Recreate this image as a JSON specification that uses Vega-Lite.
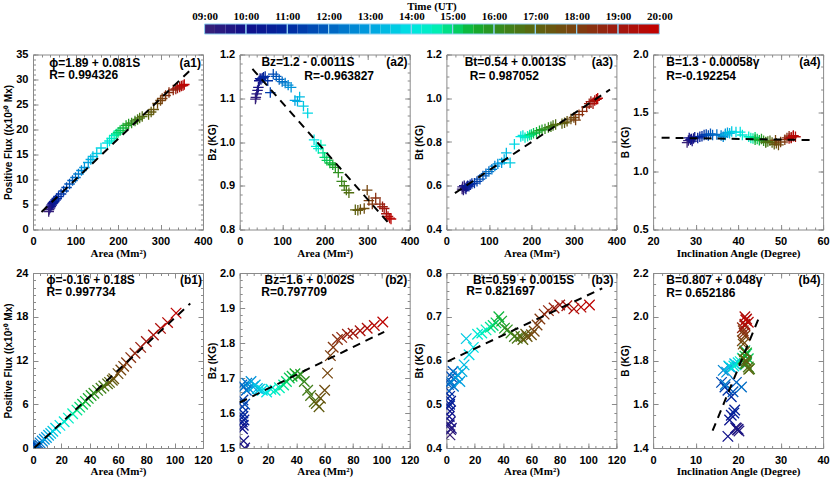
{
"$schema": "https://vega.github.io/schema/vega-lite/v6.json",
"padding": {"left": 3, "top": 0, "right": 0, "bottom": 0},
"background": "white",
"datasets": {
"obs": [
{"t":9.0,"sa":37,"fa":3.6,"za":1.098,"ba":0.585,"ia":28.0,"Ba":1.245,"sb":2.5,"fb":0.10,"zb":1.46,"bb":0.430,"ib":19.8,"Bb":1.483},
{"t":9.2,"sa":38,"fa":4.0,"za":1.102,"ba":0.595,"ia":28.3,"Ba":1.262,"sb":3.0,"fb":0.15,"zb":1.48,"bb":0.442,"ib":19.6,"Bb":1.490},
{"t":9.4,"sa":40,"fa":4.3,"za":1.110,"ba":0.580,"ia":28.8,"Ba":1.270,"sb":2.0,"fb":0.10,"zb":1.49,"bb":0.453,"ib":20.2,"Bb":1.478},
{"t":9.6,"sa":42,"fa":4.6,"za":1.118,"ba":0.600,"ia":29.2,"Ba":1.258,"sb":3.5,"fb":0.20,"zb":1.50,"bb":0.445,"ib":19.4,"Bb":1.492},
{"t":9.8,"sa":44,"fa":4.9,"za":1.125,"ba":0.590,"ia":29.5,"Ba":1.280,"sb":2.8,"fb":0.12,"zb":1.52,"bb":0.460,"ib":20.0,"Bb":1.486},
{"t":10.0,"sa":46,"fa":5.2,"za":1.140,"ba":0.585,"ia":28.5,"Ba":1.285,"sb":2.0,"fb":0.10,"zb":1.555,"bb":0.472,"ib":17.6,"Bb":1.453},
{"t":10.2,"sa":48,"fa":5.4,"za":1.145,"ba":0.595,"ia":29.0,"Ba":1.275,"sb":2.5,"fb":0.15,"zb":1.565,"bb":0.484,"ib":18.0,"Bb":1.528},
{"t":10.4,"sa":50,"fa":5.6,"za":1.143,"ba":0.600,"ia":29.8,"Ba":1.290,"sb":1.8,"fb":0.08,"zb":1.575,"bb":0.495,"ib":18.4,"Bb":1.550},
{"t":10.6,"sa":53,"fa":5.9,"za":1.146,"ba":0.598,"ia":30.5,"Ba":1.285,"sb":3.0,"fb":0.20,"zb":1.580,"bb":0.507,"ib":19.2,"Bb":1.574},
{"t":10.8,"sa":56,"fa":6.2,"za":1.148,"ba":0.605,"ia":31.0,"Ba":1.295,"sb":2.3,"fb":0.12,"zb":1.590,"bb":0.500,"ib":19.0,"Bb":1.560},
{"t":11.0,"sa":60,"fa":6.6,"za":1.150,"ba":0.610,"ia":31.5,"Ba":1.300,"sb":2.3,"fb":0.15,"zb":1.600,"bb":0.518,"ib":18.4,"Bb":1.634},
{"t":11.2,"sa":66,"fa":7.1,"za":1.140,"ba":0.612,"ia":32.0,"Ba":1.310,"sb":1.9,"fb":0.10,"zb":1.618,"bb":0.530,"ib":17.6,"Bb":1.664},
{"t":11.4,"sa":72,"fa":7.7,"za":1.113,"ba":0.620,"ia":32.5,"Ba":1.315,"sb":2.3,"fb":0.18,"zb":1.637,"bb":0.549,"ib":16.9,"Bb":1.679},
{"t":11.6,"sa":79,"fa":8.4,"za":1.155,"ba":0.630,"ia":33.0,"Ba":1.305,"sb":3.5,"fb":0.25,"zb":1.625,"bb":0.563,"ib":16.1,"Bb":1.700},
{"t":11.8,"sa":86,"fa":9.1,"za":1.150,"ba":0.645,"ia":33.5,"Ba":1.320,"sb":4.7,"fb":0.40,"zb":1.665,"bb":0.575,"ib":18.8,"Bb":1.657},
{"t":12.0,"sa":93,"fa":9.8,"za":1.143,"ba":0.655,"ia":34.0,"Ba":1.310,"sb":1.5,"fb":0.20,"zb":1.680,"bb":0.545,"ib":19.6,"Bb":1.700},
{"t":12.2,"sa":100,"fa":10.4,"za":1.138,"ba":0.665,"ia":35.0,"Ba":1.315,"sb":3.0,"fb":0.40,"zb":1.675,"bb":0.552,"ib":20.8,"Bb":1.679},
{"t":12.4,"sa":107,"fa":11.1,"za":1.135,"ba":0.675,"ia":36.0,"Ba":1.305,"sb":5.0,"fb":0.70,"zb":1.685,"bb":0.541,"ib":17.0,"Bb":1.690},
{"t":12.6,"sa":114,"fa":11.8,"za":1.130,"ba":0.690,"ia":36.5,"Ba":1.295,"sb":6.5,"fb":0.95,"zb":1.670,"bb":0.560,"ib":16.5,"Bb":1.755},
{"t":12.8,"sa":121,"fa":12.4,"za":1.125,"ba":0.700,"ia":37.0,"Ba":1.320,"sb":8.0,"fb":1.20,"zb":1.690,"bb":0.567,"ib":17.3,"Bb":1.747},
{"t":13.0,"sa":130,"fa":13.4,"za":1.095,"ba":0.705,"ia":37.5,"Ba":1.330,"sb":9.5,"fb":1.45,"zb":1.675,"bb":0.552,"ib":18.0,"Bb":1.770},
{"t":13.2,"sa":136,"fa":14.0,"za":1.093,"ba":0.720,"ia":37.0,"Ba":1.310,"sb":11.0,"fb":1.75,"zb":1.680,"bb":0.575,"ib":19.2,"Bb":1.785},
{"t":13.4,"sa":141,"fa":14.6,"za":1.103,"ba":0.750,"ia":38.0,"Ba":1.325,"sb":12.5,"fb":2.00,"zb":1.670,"bb":0.590,"ib":18.5,"Bb":1.765},
{"t":13.6,"sa":150,"fa":15.2,"za":1.082,"ba":0.705,"ia":38.5,"Ba":1.340,"sb":14.0,"fb":2.30,"zb":1.668,"bb":0.650,"ib":17.8,"Bb":1.775},
{"t":13.8,"sa":160,"fa":16.3,"za":1.066,"ba":0.790,"ia":39.5,"Ba":1.335,"sb":16.0,"fb":2.70,"zb":1.665,"bb":0.613,"ib":19.5,"Bb":1.780},
{"t":14.0,"sa":175,"fa":17.3,"za":1.005,"ba":0.825,"ia":40.5,"Ba":1.335,"sb":19.0,"fb":3.10,"zb":1.660,"bb":0.630,"ib":20.0,"Bb":1.790},
{"t":14.2,"sa":180,"fa":17.7,"za":0.990,"ba":0.830,"ia":41.0,"Ba":1.310,"sb":22.0,"fb":3.60,"zb":1.668,"bb":0.660,"ib":19.0,"Bb":1.775},
{"t":14.4,"sa":185,"fa":18.2,"za":0.985,"ba":0.820,"ia":42.5,"Ba":1.295,"sb":25.0,"fb":4.10,"zb":1.665,"bb":0.663,"ib":20.5,"Bb":1.795},
{"t":14.6,"sa":191,"fa":18.8,"za":0.993,"ba":0.826,"ia":43.0,"Ba":1.285,"sb":28.0,"fb":4.70,"zb":1.672,"bb":0.670,"ib":21.0,"Bb":1.810},
{"t":14.8,"sa":196,"fa":19.1,"za":0.975,"ba":0.832,"ia":43.5,"Ba":1.280,"sb":31.0,"fb":5.20,"zb":1.680,"bb":0.676,"ib":21.6,"Bb":1.845},
{"t":15.0,"sa":200,"fa":19.4,"za":0.965,"ba":0.834,"ia":44.0,"Ba":1.290,"sb":33.0,"fb":5.60,"zb":1.690,"bb":0.680,"ib":22.0,"Bb":1.830},
{"t":15.2,"sa":205,"fa":19.8,"za":0.958,"ba":0.840,"ia":44.5,"Ba":1.275,"sb":35.0,"fb":6.00,"zb":1.700,"bb":0.686,"ib":22.4,"Bb":1.808},
{"t":15.4,"sa":212,"fa":20.3,"za":0.952,"ba":0.845,"ia":45.0,"Ba":1.265,"sb":37.0,"fb":6.40,"zb":1.705,"bb":0.700,"ib":21.6,"Bb":1.820},
{"t":15.6,"sa":219,"fa":20.8,"za":0.948,"ba":0.852,"ia":44.0,"Ba":1.270,"sb":39.0,"fb":6.80,"zb":1.712,"bb":0.690,"ib":22.0,"Bb":1.835},
{"t":15.8,"sa":225,"fa":21.1,"za":0.942,"ba":0.856,"ia":45.5,"Ba":1.275,"sb":41.0,"fb":7.20,"zb":1.705,"bb":0.674,"ib":21.6,"Bb":1.785},
{"t":16.0,"sa":232,"fa":21.3,"za":0.930,"ba":0.860,"ia":46.0,"Ba":1.260,"sb":43.0,"fb":7.50,"zb":1.710,"bb":0.670,"ib":21.9,"Bb":1.785},
{"t":16.2,"sa":240,"fa":21.7,"za":0.910,"ba":0.866,"ia":46.5,"Ba":1.250,"sb":45.6,"fb":7.90,"zb":1.690,"bb":0.663,"ib":22.7,"Bb":1.762},
{"t":16.4,"sa":246,"fa":22.0,"za":0.900,"ba":0.870,"ia":47.0,"Ba":1.255,"sb":48.0,"fb":8.20,"zb":1.665,"bb":0.655,"ib":21.2,"Bb":1.807},
{"t":16.6,"sa":251,"fa":22.3,"za":0.890,"ba":0.875,"ia":46.5,"Ba":1.245,"sb":50.0,"fb":8.50,"zb":1.650,"bb":0.651,"ib":22.4,"Bb":1.770},
{"t":16.8,"sa":257,"fa":22.6,"za":0.884,"ba":0.880,"ia":47.5,"Ba":1.260,"sb":52.6,"fb":8.80,"zb":1.632,"bb":0.655,"ib":22.0,"Bb":1.795},
{"t":17.0,"sa":272,"fa":23.0,"za":0.845,"ba":0.884,"ia":48.0,"Ba":1.245,"sb":54.0,"fb":9.00,"zb":1.627,"bb":0.648,"ib":22.5,"Bb":1.760},
{"t":17.2,"sa":278,"fa":23.5,"za":0.844,"ba":0.888,"ia":48.5,"Ba":1.230,"sb":56.0,"fb":9.30,"zb":1.618,"bb":0.660,"ib":21.8,"Bb":1.800},
{"t":17.4,"sa":284,"fa":24.0,"za":0.846,"ba":0.895,"ia":49.0,"Ba":1.240,"sb":57.0,"fb":9.50,"zb":1.642,"bb":0.655,"ib":21.5,"Bb":1.840},
{"t":17.6,"sa":293,"fa":25.2,"za":0.848,"ba":0.905,"ia":49.5,"Ba":1.225,"sb":60.0,"fb":10.20,"zb":1.665,"bb":0.659,"ib":21.2,"Bb":1.875},
{"t":17.8,"sa":300,"fa":25.8,"za":0.890,"ba":0.912,"ia":48.8,"Ba":1.265,"sb":62.0,"fb":10.70,"zb":1.714,"bb":0.667,"ib":21.0,"Bb":1.890},
{"t":18.0,"sa":304,"fa":26.2,"za":0.866,"ba":0.900,"ia":50.0,"Ba":1.250,"sb":64.0,"fb":11.20,"zb":1.764,"bb":0.681,"ib":21.6,"Bb":1.913},
{"t":18.2,"sa":312,"fa":26.8,"za":0.858,"ba":0.925,"ia":51.0,"Ba":1.270,"sb":66.0,"fb":11.70,"zb":1.788,"bb":0.695,"ib":21.2,"Bb":1.936},
{"t":18.4,"sa":320,"fa":27.4,"za":0.872,"ba":0.940,"ia":51.5,"Ba":1.285,"sb":69.0,"fb":12.40,"zb":1.810,"bb":0.706,"ib":21.4,"Bb":1.925},
{"t":18.6,"sa":330,"fa":27.9,"za":0.858,"ba":0.960,"ia":52.0,"Ba":1.300,"sb":72.0,"fb":13.00,"zb":1.816,"bb":0.714,"ib":21.0,"Bb":1.950},
{"t":18.8,"sa":336,"fa":28.1,"za":0.852,"ba":0.975,"ia":52.5,"Ba":1.290,"sb":76.0,"fb":13.80,"zb":1.825,"bb":0.720,"ib":21.6,"Bb":1.960},
{"t":19.0,"sa":340,"fa":28.3,"za":0.848,"ba":0.985,"ia":53.0,"Ba":1.305,"sb":80.0,"fb":14.60,"zb":1.828,"bb":0.727,"ib":21.6,"Bb":1.966},
{"t":19.2,"sa":345,"fa":28.5,"za":0.836,"ba":0.975,"ia":52.0,"Ba":1.280,"sb":85.0,"fb":15.50,"zb":1.835,"bb":0.725,"ib":22.0,"Bb":1.990},
{"t":19.4,"sa":349,"fa":28.7,"za":0.830,"ba":0.990,"ia":53.5,"Ba":1.295,"sb":90.0,"fb":16.40,"zb":1.842,"bb":0.718,"ib":21.6,"Bb":2.000},
{"t":19.6,"sa":353,"fa":28.8,"za":0.826,"ba":0.995,"ia":52.5,"Ba":1.285,"sb":95.0,"fb":17.20,"zb":1.850,"bb":0.722,"ib":22.4,"Bb":1.975},
{"t":19.8,"sa":356,"fa":29.0,"za":0.824,"ba":1.000,"ia":53.0,"Ba":1.300,"sb":101.0,"fb":18.50,"zb":1.860,"bb":0.727,"ib":21.8,"Bb":1.985}
],
"fit": [
{"p":"a1","x":20,"y":3.51},{"p":"a1","x":370,"y":31.86},
{"p":"a2","x":30,"y":1.167},{"p":"a2","x":352,"y":0.813},
{"p":"a3","x":20,"y":0.566},{"p":"a3","x":385,"y":1.04},
{"p":"a4","x":22,"y":1.287},{"p":"a4","x":58,"y":1.266},
{"p":"b1","x":1,"y":0.02},{"p":"b1","x":111,"y":19.82},
{"p":"b2","x":0,"y":1.63},{"p":"b2","x":102,"y":1.832},
{"p":"b3","x":1,"y":0.598},{"p":"b3","x":110,"y":0.765},
{"p":"b4","x":14,"y":1.479},{"p":"b4","x":25,"y":2.0}
],
"cbar": [
{"a":9,"b":9.25,"m":9.125},{"a":9.25,"b":9.5,"m":9.375},{"a":9.5,"b":9.75,"m":9.625},{"a":9.75,"b":10,"m":9.875},
{"a":10,"b":10.25,"m":10.125},{"a":10.25,"b":10.5,"m":10.375},{"a":10.5,"b":10.75,"m":10.625},{"a":10.75,"b":11,"m":10.875},
{"a":11,"b":11.25,"m":11.125},{"a":11.25,"b":11.5,"m":11.375},{"a":11.5,"b":11.75,"m":11.625},{"a":11.75,"b":12,"m":11.875},
{"a":12,"b":12.25,"m":12.125},{"a":12.25,"b":12.5,"m":12.375},{"a":12.5,"b":12.75,"m":12.625},{"a":12.75,"b":13,"m":12.875},
{"a":13,"b":13.25,"m":13.125},{"a":13.25,"b":13.5,"m":13.375},{"a":13.5,"b":13.75,"m":13.625},{"a":13.75,"b":14,"m":13.875},
{"a":14,"b":14.25,"m":14.125},{"a":14.25,"b":14.5,"m":14.375},{"a":14.5,"b":14.75,"m":14.625},{"a":14.75,"b":15,"m":14.875},
{"a":15,"b":15.25,"m":15.125},{"a":15.25,"b":15.5,"m":15.375},{"a":15.5,"b":15.75,"m":15.625},{"a":15.75,"b":16,"m":15.875},
{"a":16,"b":16.25,"m":16.125},{"a":16.25,"b":16.5,"m":16.375},{"a":16.5,"b":16.75,"m":16.625},{"a":16.75,"b":17,"m":16.875},
{"a":17,"b":17.25,"m":17.125},{"a":17.25,"b":17.5,"m":17.375},{"a":17.5,"b":17.75,"m":17.625},{"a":17.75,"b":18,"m":17.875},
{"a":18,"b":18.25,"m":18.125},{"a":18.25,"b":18.5,"m":18.375},{"a":18.5,"b":18.75,"m":18.625},{"a":18.75,"b":19,"m":18.875},
{"a":19,"b":19.25,"m":19.125},{"a":19.25,"b":19.5,"m":19.375},{"a":19.5,"b":19.75,"m":19.625},{"a":19.75,"b":20,"m":19.875}
],
"hrs": [
{"a":9,"b":10},{"a":10,"b":11},{"a":11,"b":12},{"a":12,"b":13},{"a":13,"b":14},{"a":14,"b":15},
{"a":15,"b":16},{"a":16,"b":17},{"a":17,"b":18},{"a":18,"b":19},{"a":19,"b":20}
]
},
"vconcat": [
{
"width": 790, "height": 16.2,
"layer": [
{"data": {"name": "cbar"}, "mark": {"type": "rect", "strokeWidth": 0},
 "encoding": {
  "x": {"field": "a", "type": "quantitative", "scale": {"domain": [4.849, 23.959], "nice": false, "zero": false},
        "axis": {"orient": "top", "values": [9,10,11,12,13,14,15,16,17,18,19,20], "labelExpr": "(datum.value < 10 ? '0' : '') + datum.value + ':00'", "ticks": false, "labelPadding": 3, "labelFont": "Liberation Serif", "labelFontSize": 11, "title": null}},
  "x2": {"field": "b"},
  "y": {"datum": 6.2, "type": "quantitative", "scale": {"domain": [0, 16.2], "nice": false, "zero": false}, "axis": null},
  "y2": {"datum": 16.2},
  "color": {"field": "m", "type": "quantitative", "legend": null,
    "scale": {"type": "linear", "domain": [9,10,11,12,13,14,14.6,15,15.5,16,17,18,19,20], "range": ["#3a2278","#10108a","#0028a0","#0060c0","#00a0e0","#00e4e4","#00f0b8","#00d870","#10b030","#309020","#5c6410","#7c4010","#a01810","#c40000"], "interpolate": "rgb"}}
 }},
{"data": {"name": "hrs"}, "mark": {"type": "rect", "fill": "transparent", "stroke": "#8fd0f0", "strokeWidth": 1},
 "encoding": {
  "x": {"field": "a", "type": "quantitative"},
  "x2": {"field": "b"},
  "y": {"datum": 6.2, "type": "quantitative"},
  "y2": {"datum": 16.2}
 }},
{"data": {"values": [{}]}, "mark": {"type": "text", "font": "Liberation Serif", "fontWeight": "bold", "fontSize": 11, "baseline": "middle", "align": "center", "color": "black"},
 "encoding": {"x": {"datum": 14.5, "type": "quantitative"}, "y": {"datum": 33.4, "type": "quantitative"}, "text": {"value": "Time (UT)"}}}
],
"view": {"stroke": null}
},
{
"hconcat": [
{
"width": 170, "height": 175,
"resolve": {"axis": {"x": "independent", "y": "independent"}},
"layer": [
{"data": {"name": "obs"}, "mark": {"type": "point", "shape": "M-1,0H1M0,-1V1", "size": 110, "strokeWidth": 1.3, "filled": false, "opacity": 1, "clip": true},
 "encoding": {
  "x": {"field": "sa", "type": "quantitative", "scale": {"domain": [0, 400], "nice": false, "zero": false}, "axis": {"values": [0,100,200,300,400], "format": "d", "title": "Area (Mm²)"}},
  "y": {"field": "fa", "type": "quantitative", "scale": {"domain": [0, 35], "nice": false, "zero": false}, "axis": {"values": [0,5,10,15,20,25,30,35], "format": "d", "title": "Positive Flux ((x10²⁰ Mx)"}},
  "color": {"field": "t", "type": "quantitative", "legend": null,
    "scale": {"type": "linear", "domain": [9,10,11,12,13,14,14.6,15,15.5,16,17,18,19,20], "range": ["#3a2278","#10108a","#0028a0","#0060c0","#00a0e0","#00e4e4","#00f0b8","#00d870","#10b030","#309020","#5c6410","#7c4010","#a01810","#c40000"], "interpolate": "rgb"}}
 }},
{"data": {"name": "fit"}, "transform": [{"filter": "datum.p == 'a1'"}], "mark": {"type": "line", "color": "black", "strokeWidth": 2, "strokeDash": [8, 6]},
 "encoding": {
  "x": {"field": "x", "type": "quantitative", "scale": {"domain": [0, 400], "nice": false, "zero": false}, "axis": {"orient": "top", "values": [0,100,200,300,400], "labels": false, "title": null}},
  "y": {"field": "y", "type": "quantitative", "scale": {"domain": [0, 35], "nice": false, "zero": false}, "axis": {"orient": "right", "values": [0,5,10,15,20,25,30,35], "labels": false, "title": null}}
 }},
{"data": {"values": [{}]}, "mark": {"type": "text", "align": "left", "baseline": "middle", "font": "Liberation Sans", "fontWeight": "bold", "fontSize": 12, "color": "black"},
 "encoding": {"x": {"datum": 38, "type": "quantitative", "axis": {"orient": "bottom", "tickCount": 20, "labels": false, "title": null, "tickSize": -2.5}}, "y": {"datum": 33.3, "type": "quantitative", "axis": {"orient": "left", "tickCount": 35, "labels": false, "title": null, "tickSize": -2.5}}, "text": {"value": "ϕ=1.89  +  0.081S"}}},
{"data": {"values": [{}]}, "mark": {"type": "text", "align": "left", "baseline": "middle", "font": "Liberation Sans", "fontWeight": "bold", "fontSize": 12, "color": "black"},
 "encoding": {"x": {"datum": 38, "type": "quantitative", "axis": {"orient": "top", "tickCount": 20, "labels": false, "title": null, "tickSize": -2.5}}, "y": {"datum": 31.0, "type": "quantitative", "axis": {"orient": "right", "tickCount": 35, "labels": false, "title": null, "tickSize": -2.5}}, "text": {"value": "R= 0.994326"}}},
{"data": {"values": [{}]}, "mark": {"type": "text", "align": "right", "baseline": "middle", "font": "Liberation Sans", "fontWeight": "bold", "fontSize": 12, "color": "black"},
 "encoding": {"x": {"datum": 395, "type": "quantitative", "axis": null}, "y": {"datum": 33.3, "type": "quantitative", "axis": null}, "text": {"value": "(a1)"}}}
]
},
{
"width": 170, "height": 175,
"resolve": {"axis": {"x": "independent", "y": "independent"}},
"layer": [
{"data": {"name": "obs"}, "mark": {"type": "point", "shape": "M-1,0H1M0,-1V1", "size": 110, "strokeWidth": 1.3, "filled": false, "opacity": 1, "clip": true},
 "encoding": {
  "x": {"field": "sa", "type": "quantitative", "scale": {"domain": [0, 400], "nice": false, "zero": false}, "axis": {"values": [0,100,200,300,400], "format": "d", "title": "Area (Mm²)"}},
  "y": {"field": "za", "type": "quantitative", "scale": {"domain": [0.8, 1.2], "nice": false, "zero": false}, "axis": {"values": [0.8,0.9,1.0,1.1,1.2], "format": ".1f", "title": "Bz (KG)"}},
  "color": {"field": "t", "type": "quantitative", "legend": null,
    "scale": {"type": "linear", "domain": [9,10,11,12,13,14,14.6,15,15.5,16,17,18,19,20], "range": ["#3a2278","#10108a","#0028a0","#0060c0","#00a0e0","#00e4e4","#00f0b8","#00d870","#10b030","#309020","#5c6410","#7c4010","#a01810","#c40000"], "interpolate": "rgb"}}
 }},
{"data": {"name": "fit"}, "transform": [{"filter": "datum.p == 'a2'"}], "mark": {"type": "line", "color": "black", "strokeWidth": 2, "strokeDash": [8, 6]},
 "encoding": {
  "x": {"field": "x", "type": "quantitative", "scale": {"domain": [0, 400], "nice": false, "zero": false}, "axis": {"orient": "top", "values": [0,100,200,300,400], "labels": false, "title": null}},
  "y": {"field": "y", "type": "quantitative", "scale": {"domain": [0.8, 1.2], "nice": false, "zero": false}, "axis": {"orient": "right", "values": [0.8,0.9,1.0,1.1,1.2], "labels": false, "title": null}}
 }},
{"data": {"values": [{}]}, "mark": {"type": "text", "align": "left", "baseline": "middle", "font": "Liberation Sans", "fontWeight": "bold", "fontSize": 12, "color": "black"},
 "encoding": {"x": {"datum": 51, "type": "quantitative", "axis": {"orient": "bottom", "tickCount": 20, "labels": false, "title": null, "tickSize": -2.5}}, "y": {"datum": 1.1826, "type": "quantitative", "axis": {"orient": "left", "tickCount": 20, "labels": false, "title": null, "tickSize": -2.5}}, "text": {"value": "Bz=1.2  -  0.0011S"}}},
{"data": {"values": [{}]}, "mark": {"type": "text", "align": "left", "baseline": "middle", "font": "Liberation Sans", "fontWeight": "bold", "fontSize": 12, "color": "black"},
 "encoding": {"x": {"datum": 152, "type": "quantitative", "axis": {"orient": "top", "tickCount": 20, "labels": false, "title": null, "tickSize": -2.5}}, "y": {"datum": 1.150, "type": "quantitative", "axis": {"orient": "right", "tickCount": 20, "labels": false, "title": null, "tickSize": -2.5}}, "text": {"value": "R=-0.963827"}}},
{"data": {"values": [{}]}, "mark": {"type": "text", "align": "right", "baseline": "middle", "font": "Liberation Sans", "fontWeight": "bold", "fontSize": 12, "color": "black"},
 "encoding": {"x": {"datum": 395, "type": "quantitative", "axis": null}, "y": {"datum": 1.1826, "type": "quantitative", "axis": null}, "text": {"value": "(a2)"}}}
]
},
{
"width": 170, "height": 175,
"resolve": {"axis": {"x": "independent", "y": "independent"}},
"layer": [
{"data": {"name": "obs"}, "mark": {"type": "point", "shape": "M-1,0H1M0,-1V1", "size": 110, "strokeWidth": 1.3, "filled": false, "opacity": 1, "clip": true},
 "encoding": {
  "x": {"field": "sa", "type": "quantitative", "scale": {"domain": [0, 400], "nice": false, "zero": false}, "axis": {"values": [0,100,200,300,400], "format": "d", "title": "Area (Mm²)"}},
  "y": {"field": "ba", "type": "quantitative", "scale": {"domain": [0.4, 1.2], "nice": false, "zero": false}, "axis": {"values": [0.4,0.6,0.8,1.0,1.2], "format": ".1f", "title": "Bt (KG)"}},
  "color": {"field": "t", "type": "quantitative", "legend": null,
    "scale": {"type": "linear", "domain": [9,10,11,12,13,14,14.6,15,15.5,16,17,18,19,20], "range": ["#3a2278","#10108a","#0028a0","#0060c0","#00a0e0","#00e4e4","#00f0b8","#00d870","#10b030","#309020","#5c6410","#7c4010","#a01810","#c40000"], "interpolate": "rgb"}}
 }},
{"data": {"name": "fit"}, "transform": [{"filter": "datum.p == 'a3'"}], "mark": {"type": "line", "color": "black", "strokeWidth": 2, "strokeDash": [8, 6]},
 "encoding": {
  "x": {"field": "x", "type": "quantitative", "scale": {"domain": [0, 400], "nice": false, "zero": false}, "axis": {"orient": "top", "values": [0,100,200,300,400], "labels": false, "title": null}},
  "y": {"field": "y", "type": "quantitative", "scale": {"domain": [0.4, 1.2], "nice": false, "zero": false}, "axis": {"orient": "right", "values": [0.4,0.6,0.8,1.0,1.2], "labels": false, "title": null}}
 }},
{"data": {"values": [{}]}, "mark": {"type": "text", "align": "left", "baseline": "middle", "font": "Liberation Sans", "fontWeight": "bold", "fontSize": 12, "color": "black"},
 "encoding": {"x": {"datum": 43, "type": "quantitative", "axis": {"orient": "bottom", "tickCount": 20, "labels": false, "title": null, "tickSize": -2.5}}, "y": {"datum": 1.165, "type": "quantitative", "axis": {"orient": "left", "tickCount": 16, "labels": false, "title": null, "tickSize": -2.5}}, "text": {"value": "Bt=0.54  +  0.0013S"}}},
{"data": {"values": [{}]}, "mark": {"type": "text", "align": "left", "baseline": "middle", "font": "Liberation Sans", "fontWeight": "bold", "fontSize": 12, "color": "black"},
 "encoding": {"x": {"datum": 55, "type": "quantitative", "axis": {"orient": "top", "tickCount": 20, "labels": false, "title": null, "tickSize": -2.5}}, "y": {"datum": 1.101, "type": "quantitative", "axis": {"orient": "right", "tickCount": 16, "labels": false, "title": null, "tickSize": -2.5}}, "text": {"value": "R= 0.987052"}}},
{"data": {"values": [{}]}, "mark": {"type": "text", "align": "right", "baseline": "middle", "font": "Liberation Sans", "fontWeight": "bold", "fontSize": 12, "color": "black"},
 "encoding": {"x": {"datum": 392, "type": "quantitative", "axis": null}, "y": {"datum": 1.165, "type": "quantitative", "axis": null}, "text": {"value": "(a3)"}}}
]
},
{
"width": 170, "height": 175,
"resolve": {"axis": {"x": "independent", "y": "independent"}},
"layer": [
{"data": {"name": "obs"}, "mark": {"type": "point", "shape": "M-1,0H1M0,-1V1", "size": 110, "strokeWidth": 1.3, "filled": false, "opacity": 1, "clip": true},
 "encoding": {
  "x": {"field": "ia", "type": "quantitative", "scale": {"domain": [20, 60], "nice": false, "zero": false}, "axis": {"values": [20,30,40,50,60], "format": "d", "title": "Inclination Angle (Degree)"}},
  "y": {"field": "Ba", "type": "quantitative", "scale": {"domain": [0.5, 2.0], "nice": false, "zero": false}, "axis": {"values": [0.5,1.0,1.5,2.0], "format": ".1f", "title": "B (KG)"}},
  "color": {"field": "t", "type": "quantitative", "legend": null,
    "scale": {"type": "linear", "domain": [9,10,11,12,13,14,14.6,15,15.5,16,17,18,19,20], "range": ["#3a2278","#10108a","#0028a0","#0060c0","#00a0e0","#00e4e4","#00f0b8","#00d870","#10b030","#309020","#5c6410","#7c4010","#a01810","#c40000"], "interpolate": "rgb"}}
 }},
{"data": {"name": "fit"}, "transform": [{"filter": "datum.p == 'a4'"}], "mark": {"type": "line", "color": "black", "strokeWidth": 2, "strokeDash": [8, 6]},
 "encoding": {
  "x": {"field": "x", "type": "quantitative", "scale": {"domain": [20, 60], "nice": false, "zero": false}, "axis": {"orient": "top", "values": [20,30,40,50,60], "labels": false, "title": null}},
  "y": {"field": "y", "type": "quantitative", "scale": {"domain": [0.5, 2.0], "nice": false, "zero": false}, "axis": {"orient": "right", "values": [0.5,1.0,1.5,2.0], "labels": false, "title": null}}
 }},
{"data": {"values": [{}]}, "mark": {"type": "text", "align": "left", "baseline": "middle", "font": "Liberation Sans", "fontWeight": "bold", "fontSize": 12, "color": "black"},
 "encoding": {"x": {"datum": 23.1, "type": "quantitative", "axis": {"orient": "bottom", "tickCount": 20, "labels": false, "title": null, "tickSize": -2.5}}, "y": {"datum": 1.935, "type": "quantitative", "axis": {"orient": "left", "tickCount": 15, "labels": false, "title": null, "tickSize": -2.5}}, "text": {"value": "B=1.3  -  0.00058γ"}}},
{"data": {"values": [{}]}, "mark": {"type": "text", "align": "left", "baseline": "middle", "font": "Liberation Sans", "fontWeight": "bold", "fontSize": 12, "color": "black"},
 "encoding": {"x": {"datum": 23.1, "type": "quantitative", "axis": {"orient": "top", "tickCount": 20, "labels": false, "title": null, "tickSize": -2.5}}, "y": {"datum": 1.814, "type": "quantitative", "axis": {"orient": "right", "tickCount": 15, "labels": false, "title": null, "tickSize": -2.5}}, "text": {"value": "R=-0.192254"}}},
{"data": {"values": [{}]}, "mark": {"type": "text", "align": "right", "baseline": "middle", "font": "Liberation Sans", "fontWeight": "bold", "fontSize": 12, "color": "black"},
 "encoding": {"x": {"datum": 59.4, "type": "quantitative", "axis": null}, "y": {"datum": 1.935, "type": "quantitative", "axis": null}, "text": {"value": "(a4)"}}}
]
}
],
"spacing": 36.7, "bounds": "flush"
},
{
"hconcat": [
{
"width": 170, "height": 175,
"resolve": {"axis": {"x": "independent", "y": "independent"}},
"layer": [
{"data": {"name": "obs"}, "mark": {"type": "point", "shape": "M-1,-1L1,1M-1,1L1,-1", "size": 110, "strokeWidth": 1.3, "filled": false, "opacity": 1, "clip": true},
 "encoding": {
  "x": {"field": "sb", "type": "quantitative", "scale": {"domain": [0, 120], "nice": false, "zero": false}, "axis": {"values": [0,20,40,60,80,100,120], "format": "d", "title": "Area (Mm²)"}},
  "y": {"field": "fb", "type": "quantitative", "scale": {"domain": [0, 24], "nice": false, "zero": false}, "axis": {"values": [0,6,12,18,24], "format": "d", "title": "Positive Flux ((x10²⁰ Mx)"}},
  "color": {"field": "t", "type": "quantitative", "legend": null,
    "scale": {"type": "linear", "domain": [9,10,11,12,13,14,14.6,15,15.5,16,17,18,19,20], "range": ["#3a2278","#10108a","#0028a0","#0060c0","#00a0e0","#00e4e4","#00f0b8","#00d870","#10b030","#309020","#5c6410","#7c4010","#a01810","#c40000"], "interpolate": "rgb"}}
 }},
{"data": {"name": "fit"}, "transform": [{"filter": "datum.p == 'b1'"}], "mark": {"type": "line", "color": "black", "strokeWidth": 2, "strokeDash": [8, 6]},
 "encoding": {
  "x": {"field": "x", "type": "quantitative", "scale": {"domain": [0, 120], "nice": false, "zero": false}, "axis": {"orient": "top", "values": [0,20,40,60,80,100,120], "labels": false, "title": null}},
  "y": {"field": "y", "type": "quantitative", "scale": {"domain": [0, 24], "nice": false, "zero": false}, "axis": {"orient": "right", "values": [0,6,12,18,24], "labels": false, "title": null}}
 }},
{"data": {"values": [{}]}, "mark": {"type": "text", "align": "left", "baseline": "middle", "font": "Liberation Sans", "fontWeight": "bold", "fontSize": 12, "color": "black"},
 "encoding": {"x": {"datum": 9.5, "type": "quantitative", "axis": {"orient": "bottom", "tickCount": 24, "labels": false, "title": null, "tickSize": -2.5}}, "y": {"datum": 23.08, "type": "quantitative", "axis": {"orient": "left", "tickCount": 24, "labels": false, "title": null, "tickSize": -2.5}}, "text": {"value": "ϕ=-0.16  +  0.18S"}}},
{"data": {"values": [{}]}, "mark": {"type": "text", "align": "left", "baseline": "middle", "font": "Liberation Sans", "fontWeight": "bold", "fontSize": 12, "color": "black"},
 "encoding": {"x": {"datum": 9.5, "type": "quantitative", "axis": {"orient": "top", "tickCount": 24, "labels": false, "title": null, "tickSize": -2.5}}, "y": {"datum": 21.38, "type": "quantitative", "axis": {"orient": "right", "tickCount": 24, "labels": false, "title": null, "tickSize": -2.5}}, "text": {"value": "R= 0.997734"}}},
{"data": {"values": [{}]}, "mark": {"type": "text", "align": "right", "baseline": "middle", "font": "Liberation Sans", "fontWeight": "bold", "fontSize": 12, "color": "black"},
 "encoding": {"x": {"datum": 119.3, "type": "quantitative", "axis": null}, "y": {"datum": 23.08, "type": "quantitative", "axis": null}, "text": {"value": "(b1)"}}}
]
},
{
"width": 170, "height": 175,
"resolve": {"axis": {"x": "independent", "y": "independent"}},
"layer": [
{"data": {"name": "obs"}, "mark": {"type": "point", "shape": "M-1,-1L1,1M-1,1L1,-1", "size": 110, "strokeWidth": 1.3, "filled": false, "opacity": 1, "clip": true},
 "encoding": {
  "x": {"field": "sb", "type": "quantitative", "scale": {"domain": [0, 120], "nice": false, "zero": false}, "axis": {"values": [0,20,40,60,80,100,120], "format": "d", "title": "Area (Mm²)"}},
  "y": {"field": "zb", "type": "quantitative", "scale": {"domain": [1.5, 2.0], "nice": false, "zero": false}, "axis": {"values": [1.5,1.6,1.7,1.8,1.9,2.0], "format": ".1f", "title": "Bz (KG)"}},
  "color": {"field": "t", "type": "quantitative", "legend": null,
    "scale": {"type": "linear", "domain": [9,10,11,12,13,14,14.6,15,15.5,16,17,18,19,20], "range": ["#3a2278","#10108a","#0028a0","#0060c0","#00a0e0","#00e4e4","#00f0b8","#00d870","#10b030","#309020","#5c6410","#7c4010","#a01810","#c40000"], "interpolate": "rgb"}}
 }},
{"data": {"name": "fit"}, "transform": [{"filter": "datum.p == 'b2'"}], "mark": {"type": "line", "color": "black", "strokeWidth": 2, "strokeDash": [8, 6]},
 "encoding": {
  "x": {"field": "x", "type": "quantitative", "scale": {"domain": [0, 120], "nice": false, "zero": false}, "axis": {"orient": "top", "values": [0,20,40,60,80,100,120], "labels": false, "title": null}},
  "y": {"field": "y", "type": "quantitative", "scale": {"domain": [1.5, 2.0], "nice": false, "zero": false}, "axis": {"orient": "right", "values": [1.5,1.6,1.7,1.8,1.9,2.0], "labels": false, "title": null}}
 }},
{"data": {"values": [{}]}, "mark": {"type": "text", "align": "left", "baseline": "middle", "font": "Liberation Sans", "fontWeight": "bold", "fontSize": 12, "color": "black"},
 "encoding": {"x": {"datum": 17.5, "type": "quantitative", "axis": {"orient": "bottom", "tickCount": 24, "labels": false, "title": null, "tickSize": -2.5}}, "y": {"datum": 1.979, "type": "quantitative", "axis": {"orient": "left", "tickCount": 25, "labels": false, "title": null, "tickSize": -2.5}}, "text": {"value": "Bz=1.6  +  0.002S"}}},
{"data": {"values": [{}]}, "mark": {"type": "text", "align": "left", "baseline": "middle", "font": "Liberation Sans", "fontWeight": "bold", "fontSize": 12, "color": "black"},
 "encoding": {"x": {"datum": 15.2, "type": "quantitative", "axis": {"orient": "top", "tickCount": 24, "labels": false, "title": null, "tickSize": -2.5}}, "y": {"datum": 1.946, "type": "quantitative", "axis": {"orient": "right", "tickCount": 25, "labels": false, "title": null, "tickSize": -2.5}}, "text": {"value": "R=0.797709"}}},
{"data": {"values": [{}]}, "mark": {"type": "text", "align": "right", "baseline": "middle", "font": "Liberation Sans", "fontWeight": "bold", "fontSize": 12, "color": "black"},
 "encoding": {"x": {"datum": 118.2, "type": "quantitative", "axis": null}, "y": {"datum": 1.979, "type": "quantitative", "axis": null}, "text": {"value": "(b2)"}}}
]
},
{
"width": 170, "height": 175,
"resolve": {"axis": {"x": "independent", "y": "independent"}},
"layer": [
{"data": {"name": "obs"}, "mark": {"type": "point", "shape": "M-1,-1L1,1M-1,1L1,-1", "size": 110, "strokeWidth": 1.3, "filled": false, "opacity": 1, "clip": true},
 "encoding": {
  "x": {"field": "sb", "type": "quantitative", "scale": {"domain": [0, 120], "nice": false, "zero": false}, "axis": {"values": [0,20,40,60,80,100,120], "format": "d", "title": "Area (Mm²)"}},
  "y": {"field": "bb", "type": "quantitative", "scale": {"domain": [0.4, 0.8], "nice": false, "zero": false}, "axis": {"values": [0.4,0.5,0.6,0.7,0.8], "format": ".1f", "title": "Bt (KG)"}},
  "color": {"field": "t", "type": "quantitative", "legend": null,
    "scale": {"type": "linear", "domain": [9,10,11,12,13,14,14.6,15,15.5,16,17,18,19,20], "range": ["#3a2278","#10108a","#0028a0","#0060c0","#00a0e0","#00e4e4","#00f0b8","#00d870","#10b030","#309020","#5c6410","#7c4010","#a01810","#c40000"], "interpolate": "rgb"}}
 }},
{"data": {"name": "fit"}, "transform": [{"filter": "datum.p == 'b3'"}], "mark": {"type": "line", "color": "black", "strokeWidth": 2, "strokeDash": [8, 6]},
 "encoding": {
  "x": {"field": "x", "type": "quantitative", "scale": {"domain": [0, 120], "nice": false, "zero": false}, "axis": {"orient": "top", "values": [0,20,40,60,80,100,120], "labels": false, "title": null}},
  "y": {"field": "y", "type": "quantitative", "scale": {"domain": [0.4, 0.8], "nice": false, "zero": false}, "axis": {"orient": "right", "values": [0.4,0.5,0.6,0.7,0.8], "labels": false, "title": null}}
 }},
{"data": {"values": [{}]}, "mark": {"type": "text", "align": "left", "baseline": "middle", "font": "Liberation Sans", "fontWeight": "bold", "fontSize": 12, "color": "black"},
 "encoding": {"x": {"datum": 18.7, "type": "quantitative", "axis": {"orient": "bottom", "tickCount": 24, "labels": false, "title": null, "tickSize": -2.5}}, "y": {"datum": 0.785, "type": "quantitative", "axis": {"orient": "left", "tickCount": 20, "labels": false, "title": null, "tickSize": -2.5}}, "text": {"value": "Bt=0.59  +  0.0015S"}}},
{"data": {"values": [{}]}, "mark": {"type": "text", "align": "left", "baseline": "middle", "font": "Liberation Sans", "fontWeight": "bold", "fontSize": 12, "color": "black"},
 "encoding": {"x": {"datum": 14, "type": "quantitative", "axis": {"orient": "top", "tickCount": 24, "labels": false, "title": null, "tickSize": -2.5}}, "y": {"datum": 0.758, "type": "quantitative", "axis": {"orient": "right", "tickCount": 20, "labels": false, "title": null, "tickSize": -2.5}}, "text": {"value": "R= 0.821697"}}},
{"data": {"values": [{}]}, "mark": {"type": "text", "align": "right", "baseline": "middle", "font": "Liberation Sans", "fontWeight": "bold", "fontSize": 12, "color": "black"},
 "encoding": {"x": {"datum": 118, "type": "quantitative", "axis": null}, "y": {"datum": 0.785, "type": "quantitative", "axis": null}, "text": {"value": "(b3)"}}}
]
},
{
"width": 170, "height": 175,
"resolve": {"axis": {"x": "independent", "y": "independent"}},
"layer": [
{"data": {"name": "obs"}, "mark": {"type": "point", "shape": "M-1,-1L1,1M-1,1L1,-1", "size": 110, "strokeWidth": 1.3, "filled": false, "opacity": 1, "clip": true},
 "encoding": {
  "x": {"field": "ib", "type": "quantitative", "scale": {"domain": [0, 40], "nice": false, "zero": false}, "axis": {"values": [0,10,20,30,40], "format": "d", "title": "Inclination Angle (Degree)"}},
  "y": {"field": "Bb", "type": "quantitative", "scale": {"domain": [1.4, 2.2], "nice": false, "zero": false}, "axis": {"values": [1.4,1.6,1.8,2.0,2.2], "format": ".1f", "title": "B (KG)"}},
  "color": {"field": "t", "type": "quantitative", "legend": null,
    "scale": {"type": "linear", "domain": [9,10,11,12,13,14,14.6,15,15.5,16,17,18,19,20], "range": ["#3a2278","#10108a","#0028a0","#0060c0","#00a0e0","#00e4e4","#00f0b8","#00d870","#10b030","#309020","#5c6410","#7c4010","#a01810","#c40000"], "interpolate": "rgb"}}
 }},
{"data": {"name": "fit"}, "transform": [{"filter": "datum.p == 'b4'"}], "mark": {"type": "line", "color": "black", "strokeWidth": 2, "strokeDash": [8, 6]},
 "encoding": {
  "x": {"field": "x", "type": "quantitative", "scale": {"domain": [0, 40], "nice": false, "zero": false}, "axis": {"orient": "top", "values": [0,10,20,30,40], "labels": false, "title": null}},
  "y": {"field": "y", "type": "quantitative", "scale": {"domain": [1.4, 2.2], "nice": false, "zero": false}, "axis": {"orient": "right", "values": [1.4,1.6,1.8,2.0,2.2], "labels": false, "title": null}}
 }},
{"data": {"values": [{}]}, "mark": {"type": "text", "align": "left", "baseline": "middle", "font": "Liberation Sans", "fontWeight": "bold", "fontSize": 12, "color": "black"},
 "encoding": {"x": {"datum": 3.1, "type": "quantitative", "axis": {"orient": "bottom", "tickCount": 20, "labels": false, "title": null, "tickSize": -2.5}}, "y": {"datum": 2.17, "type": "quantitative", "axis": {"orient": "left", "tickCount": 16, "labels": false, "title": null, "tickSize": -2.5}}, "text": {"value": "B=0.807  +  0.048γ"}}},
{"data": {"values": [{}]}, "mark": {"type": "text", "align": "left", "baseline": "middle", "font": "Liberation Sans", "fontWeight": "bold", "fontSize": 12, "color": "black"},
 "encoding": {"x": {"datum": 3.1, "type": "quantitative", "axis": {"orient": "top", "tickCount": 20, "labels": false, "title": null, "tickSize": -2.5}}, "y": {"datum": 2.109, "type": "quantitative", "axis": {"orient": "right", "tickCount": 16, "labels": false, "title": null, "tickSize": -2.5}}, "text": {"value": "R= 0.652186"}}},
{"data": {"values": [{}]}, "mark": {"type": "text", "align": "right", "baseline": "middle", "font": "Liberation Sans", "fontWeight": "bold", "fontSize": 12, "color": "black"},
 "encoding": {"x": {"datum": 39.4, "type": "quantitative", "axis": null}, "y": {"datum": 2.17, "type": "quantitative", "axis": null}, "text": {"value": "(b4)"}}}
]
}
],
"spacing": 36.7, "bounds": "flush"
}
],
"spacing": 6.5,
"config": {
 "view": {"stroke": "#8a8a8a", "strokeWidth": 1},
 "axis": {"grid": false, "domain": false, "tickColor": "#8a8a8a", "tickSize": -5, "tickWidth": 1, "labelFont": "Liberation Sans", "labelFontSize": 11, "labelFontWeight": "bold", "labelColor": "black", "titleColor": "black", "titleFontWeight": "bold", "labelFlush": false, "labelOverlap": false},
 "axisX": {"titleFont": "Liberation Serif", "titleFontSize": 11, "titlePadding": 0.5, "labelPadding": 11.3},
 "axisY": {"titleFont": "Liberation Sans", "titleFontSize": 10, "titlePadding": 2, "labelPadding": 10}
}
}
